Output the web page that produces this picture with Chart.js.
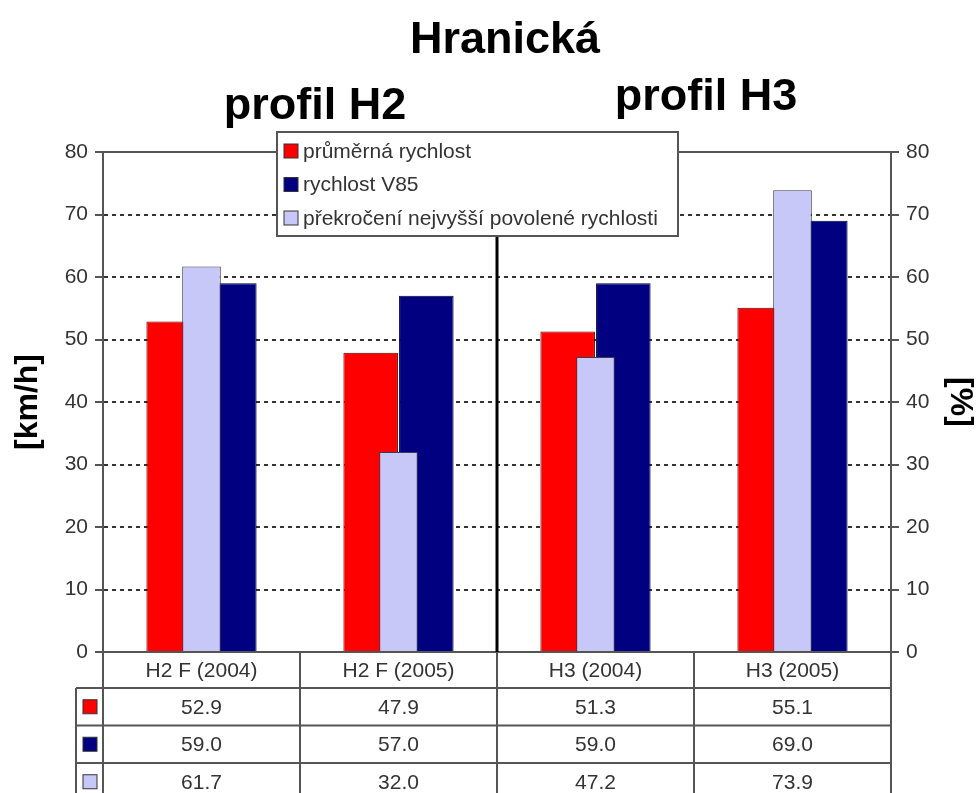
<!DOCTYPE html>
<html>
<head>
<meta charset="utf-8">
<script src="https://cdn.jsdelivr.net/npm/chart.js@4"></script>
<style>
  html, body { margin: 0; padding: 0; background: #fff; }
  #wrap { width: 977px; height: 793px; }
</style>
</head>
<body>
<div id="wrap"><canvas id="chart"></canvas></div>
<script>
const categories = ["H2 F (2004)", "H2 F (2005)", "H3 (2004)", "H3 (2005)"];
const avgSpeed = [52.9, 47.9, 51.3, 55.1];     // km/h
const speedV85 = [59.0, 57.0, 59.0, 69.0];     // km/h
const overLimit = [61.7, 32.0, 47.2, 73.9];    // %
const seriesNames = ["průměrná rychlost", "rychlost V85", "překročení nejvyšší povolené rychlosti"];
const mainTitle = "Hranická";
const profileTitles = ["profil H2", "profil H3"];
const axisMin = 0, axisMax = 80, axisStep = 10;

const FONT = "'Liberation Sans', Arial, sans-serif";
const TEXT = "#333";
const LINE = "#555";

// titles, frame top, divider, legend box and the data table under the axis
const decor = {
  id: "decor",
  beforeDatasetsDraw(chart) {
    const { ctx, chartArea } = chart;
    ctx.save();
    ctx.strokeStyle = LINE;
    ctx.lineWidth = 2;
    ctx.beginPath();
    ctx.moveTo(chartArea.left, chartArea.top);
    ctx.lineTo(chartArea.right, chartArea.top);
    ctx.stroke();
    ctx.restore();
  },
  afterDatasetsDraw(chart) {
    const { ctx, chartArea, scales } = chart;
    const x = scales.x;
    ctx.save();

    // titles
    ctx.fillStyle = "#000";
    ctx.textAlign = "center";
    ctx.textBaseline = "alphabetic";
    ctx.font = "bold 45px " + FONT;
    ctx.fillText(mainTitle, 505, 53);
    const leftMid = (x.getPixelForValue(0) + x.getPixelForValue(1)) / 2;
    const rightMid = (x.getPixelForValue(2) + x.getPixelForValue(3)) / 2;
    ctx.fillText(profileTitles[0], leftMid + 15, 119);
    ctx.fillText(profileTitles[1], rightMid + 12, 110);

    // legend box
    const lb = { left: 277, top: 132, right: 678, bottom: 236 };
    const divX = (x.getPixelForValue(1) + x.getPixelForValue(2)) / 2;
    ctx.strokeStyle = "#000";
    ctx.lineWidth = 3;
    ctx.beginPath();
    ctx.moveTo(divX, lb.bottom);
    ctx.lineTo(divX, chartArea.bottom);
    ctx.stroke();

    ctx.fillStyle = "#fff";
    ctx.fillRect(lb.left, lb.top, lb.right - lb.left, lb.bottom - lb.top);
    ctx.strokeStyle = LINE;
    ctx.lineWidth = 2;
    ctx.strokeRect(lb.left, lb.top, lb.right - lb.left, lb.bottom - lb.top);
    ctx.font = "21px " + FONT;
    ctx.textAlign = "left";
    ctx.textBaseline = "middle";
    chart.data.datasets.forEach((ds, i) => {
      const cy = 151 + i * 33.5;
      ctx.fillStyle = ds.backgroundColor;
      ctx.fillRect(284, cy - 7, 14, 14);
      ctx.strokeStyle = "#333";
      ctx.lineWidth = 1;
      ctx.strokeRect(284, cy - 7, 14, 14);
      ctx.fillStyle = TEXT;
      ctx.fillText(ds.label, 303, cy + 1);
    });
    ctx.restore();
  },
  afterDraw(chart) {
    const { ctx, chartArea, scales } = chart;
    const x = scales.x;
    const headTop = chartArea.bottom;
    const headBottom = x.bottom;
    const rowH = 37.5;
    const tableBottom = headBottom + rowH * 3;
    const keyLeft = 76;
    const edges = [];
    for (let i = 0; i <= categories.length; i++) {
      edges.push(i === 0 ? chartArea.left : i === categories.length ? chartArea.right
        : (x.getPixelForValue(i - 1) + x.getPixelForValue(i)) / 2);
    }
    ctx.save();
    ctx.strokeStyle = LINE;
    ctx.lineWidth = 2;
    ctx.beginPath();
    edges.forEach((ex) => { ctx.moveTo(ex, headTop); ctx.lineTo(ex, tableBottom); });
    ctx.moveTo(keyLeft, headBottom); ctx.lineTo(keyLeft, tableBottom);
    for (let r = 0; r < 3; r++) {
      const y = headBottom + r * rowH;
      ctx.moveTo(keyLeft, y); ctx.lineTo(chartArea.right, y);
    }
    ctx.stroke();

    ctx.font = "21px " + FONT;
    ctx.textAlign = "center";
    ctx.textBaseline = "middle";
    chart.data.datasets.forEach((ds, r) => {
      const cy = headBottom + rowH * (r + 0.5);
      ctx.fillStyle = ds.backgroundColor;
      ctx.fillRect(83, cy - 7, 14, 14);
      ctx.strokeStyle = "#333";
      ctx.lineWidth = 1;
      ctx.strokeRect(83, cy - 7, 14, 14);
      ctx.fillStyle = TEXT;
      ds.data.forEach((v, i) => {
        ctx.fillText(v.toFixed(1), x.getPixelForValue(i), cy + 1);
      });
    });
    ctx.restore();
  }
};

const hideEnds = (c) => (c.tick.value === axisMin || c.tick.value === axisMax) ? "rgba(0,0,0,0)" : "#333";

new Chart(document.getElementById("chart"), {
  type: "bar",
  data: {
    labels: categories,
    datasets: [
      {
        label: seriesNames[0], data: avgSpeed, yAxisID: "y",
        backgroundColor: "#ff0000", borderColor: "#5a0000", borderWidth: 1,
        categoryPercentage: 0.565, barPercentage: 0.98, order: 1
      },
      {
        label: seriesNames[1], data: speedV85, yAxisID: "y",
        backgroundColor: "#000080", borderColor: "#000030", borderWidth: 1,
        categoryPercentage: 0.565, barPercentage: 0.98, order: 1
      },
      {
        label: seriesNames[2], data: overLimit, yAxisID: "y1",
        backgroundColor: "#c8c8f8", borderColor: "#3a3a50", borderWidth: 1,
        grouped: false, barPercentage: 0.245, order: 0
      }
    ]
  },
  options: {
    responsive: true,
    maintainAspectRatio: false,
    animation: false,
    layout: { padding: { top: 152, bottom: 105, left: 0, right: 0 } },
    plugins: { legend: { display: false }, title: { display: false }, tooltip: { enabled: false } },
    scales: {
      x: {
        grid: { display: false, drawTicks: false },
        border: { color: LINE, width: 2 },
        ticks: { color: TEXT, font: { family: FONT, size: 21 }, padding: 7, maxRotation: 0 },
        afterFit(s) { s.height = 36; }
      },
      y: {
        position: "left", min: axisMin, max: axisMax,
        ticks: { stepSize: axisStep, color: TEXT, font: { family: FONT, size: 21 }, padding: 7 },
        grid: { color: hideEnds, lineWidth: 2, tickColor: LINE, tickLength: 8 },
        border: { color: LINE, width: 2, dash: [4, 4] },
        title: { display: true, text: "[km/h]", color: "#000",
          font: { family: FONT, size: 32, weight: "bold", lineHeight: 1 }, padding: { top: 12, bottom: 0 } },
        afterFit(s) { s.width = 103; }
      },
      y1: {
        position: "right", min: axisMin, max: axisMax,
        ticks: { stepSize: axisStep, color: TEXT, font: { family: FONT, size: 21 }, padding: 7 },
        grid: { drawOnChartArea: false, tickColor: LINE, tickLength: 8, lineWidth: 2 },
        border: { color: LINE, width: 2 },
        title: { display: true, text: "[%]", color: "#000",
          font: { family: FONT, size: 32, weight: "bold", lineHeight: 1 }, padding: { top: 1, bottom: 0 } },
        afterFit(s) { s.width = 86; }
      }
    }
  },
  plugins: [decor]
});
</script>
</body>
</html>
